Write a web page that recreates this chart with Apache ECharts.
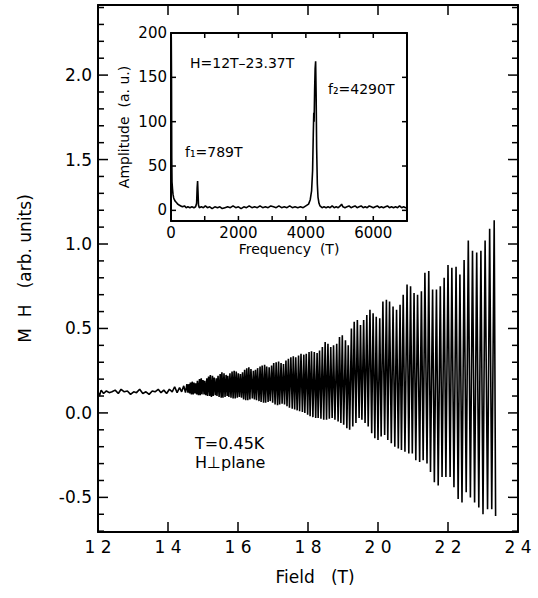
<!DOCTYPE html>
<html>
<head>
<meta charset="utf-8">
<title>M H vs Field</title>
<script src="https://cdn.jsdelivr.net/npm/echarts@6/dist/echarts.min.js"></script>
<style>
  html, body { margin: 0; padding: 0; background: #fff; }
  #chart { width: 538px; height: 598px; }
</style>
</head>
<body>
<div id="chart"></div>
<script>
// main trace, [field (T), M*H (arb. units)], extrema
const lowFieldTrace = [
  [12.00,0.125],[12.04,0.10],[12.09,0.135],[12.16,0.115],[12.24,0.13],[12.32,0.12],[12.40,0.125],
  [12.49,0.135],[12.58,0.115],[12.66,0.14],[12.75,0.125],[12.84,0.13],[12.93,0.11],[13.02,0.125],
  [13.10,0.12],[13.19,0.14],[13.28,0.115],[13.37,0.125],[13.46,0.11],[13.55,0.13],[13.63,0.125],
  [13.72,0.14],[13.80,0.12],[13.88,0.135],[13.96,0.115],[14.04,0.14],[14.12,0.125],[14.19,0.155],
  [14.26,0.12],[14.33,0.15],[14.39,0.125],[14.45,0.16],[14.50,0.12]
];
const midFieldTrace = [
  [14.54,0.17],[14.57,0.12],[14.59,0.17],[14.62,0.115],[14.64,0.18],[14.67,0.11],[14.69,0.185],[14.72,0.11],
  [14.74,0.18],[14.77,0.115],[14.79,0.175],[14.82,0.11],[14.84,0.19],[14.87,0.105],[14.90,0.20],[14.92,0.105],
  [14.95,0.205],[14.97,0.11],[15.00,0.195],[15.03,0.11],[15.05,0.19],[15.08,0.105],[15.11,0.205],[15.13,0.10],
  [15.16,0.215],[15.19,0.10],[15.21,0.225],[15.24,0.095],[15.27,0.22],[15.29,0.10],[15.32,0.21],[15.35,0.105],
  [15.38,0.205],[15.40,0.10],[15.43,0.22],[15.46,0.095],[15.49,0.23],[15.52,0.09],[15.54,0.24],[15.57,0.09],
  [15.60,0.235],[15.63,0.095],[15.66,0.225],[15.69,0.10],[15.71,0.22],[15.74,0.095],[15.77,0.235],[15.80,0.09],
  [15.83,0.245],[15.86,0.085],[15.89,0.25],[15.92,0.085],[15.95,0.245],[15.98,0.09],[16.01,0.235],[16.04,0.095],
  [16.07,0.23],[16.10,0.09],[16.13,0.24],[16.16,0.08],[16.19,0.255],[16.22,0.075],[16.25,0.265],[16.28,0.075],
  [16.31,0.27],[16.34,0.08],[16.37,0.26],[16.41,0.085],[16.44,0.25],[16.47,0.08],[16.50,0.255],[16.53,0.075],
  [16.56,0.265],[16.60,0.07],[16.63,0.275],[16.66,0.065],[16.69,0.28],[16.73,0.06],[16.76,0.285],[16.79,0.06],
  [16.82,0.275],[16.86,0.065],[16.89,0.27],[16.92,0.07],[16.96,0.28],[16.99,0.06],[17.02,0.295],[17.06,0.05],
  [17.09,0.30],[17.13,0.045],[17.16,0.305],[17.19,0.05],[17.23,0.295],[17.26,0.055],[17.30,0.29],[17.33,0.05],
  [17.37,0.31],[17.40,0.04],[17.44,0.32],[17.47,0.03],[17.51,0.33],[17.55,0.025],[17.58,0.335],[17.62,0.02],
  [17.65,0.33],[17.69,0.015],[17.73,0.34],[17.76,0.01],[17.80,0.35],[17.84,0.005],[17.88,0.345],[17.91,0.0],
  [17.95,0.35],[17.99,-0.01],[18.03,0.36],[18.06,-0.02],[18.10,0.365],[18.14,-0.025],[18.18,0.36],[18.22,-0.03]
];
const highFieldTrace = [
  [18.26,0.355],[18.29,-0.03],[18.33,0.37],[18.37,-0.035],[18.41,0.39],[18.45,-0.04],[18.49,0.42],[18.53,-0.04],
  [18.57,0.41],[18.61,-0.035],[18.65,0.39],[18.69,-0.03],[18.73,0.40],[18.77,-0.04],[18.82,0.41],[18.86,-0.05],
  [18.90,0.45],[18.94,-0.06],[18.98,0.46],[19.02,-0.07],[19.07,0.43],[19.11,-0.09],[19.15,0.40],[19.19,-0.10],
  [19.24,0.50],[19.28,-0.08],[19.32,0.54],[19.37,-0.06],[19.41,0.55],[19.46,-0.03],[19.50,0.52],[19.54,-0.04],
  [19.59,0.55],[19.63,-0.06],[19.68,0.58],[19.72,-0.08],[19.77,0.61],[19.82,-0.12],[19.86,0.59],[19.91,-0.15],
  [19.95,0.57],[20.00,-0.16],[20.05,0.56],[20.09,-0.14],[20.14,0.66],[20.19,-0.13],[20.24,0.67],[20.28,-0.16],
  [20.33,0.66],[20.38,-0.18],[20.43,0.63],[20.48,-0.20],[20.53,0.61],[20.58,-0.21],[20.63,0.64],[20.67,-0.22],
  [20.72,0.70],[20.77,-0.23],[20.83,0.76],[20.88,-0.24],[20.93,0.75],[20.98,-0.24],[21.03,0.71],[21.08,-0.28],
  [21.13,0.70],[21.19,-0.29],[21.24,0.72],[21.29,-0.28],[21.34,0.83],[21.40,-0.30],[21.45,0.84],[21.50,-0.35],
  [21.56,0.73],[21.61,-0.41],[21.67,0.73],[21.72,-0.43],[21.78,0.75],[21.83,-0.38],[21.89,0.80],[21.94,-0.38],
  [22.00,0.875],[22.06,-0.38],[22.11,0.86],[22.17,-0.44],[22.23,0.865],[22.29,-0.51],[22.34,0.82],[22.40,-0.53],
  [22.46,0.905],[22.52,-0.47],[22.58,1.02],[22.64,-0.50],[22.70,0.96],[22.76,-0.53],[22.82,0.95],[22.88,-0.56],
  [22.94,0.96],[23.00,-0.60],[23.06,1.02],[23.13,-0.57],[23.19,1.09],[23.25,-0.57],[23.32,1.14],[23.36,-0.61]
];

// inset: FFT spectrum, [frequency (T), amplitude (a.u.)]
const fftLow = [
  [0,198],[8,195],[15,150],[22,60],[30,32],[45,24],[60,18],[80,14],[100,12],[130,10],[160,9],[200,7],
  [240,6],[290,5],[340,4],[400,5],[450,3],[500,4],[560,3],[620,4],[680,3],[730,4],[760,8],[775,25],
  [789,33],[800,22],[815,6],[840,3],[900,4],[960,3],[1020,5],[1080,3],[1150,4],[1220,2],[1300,4],
  [1380,3],[1450,4],[1520,2],[1600,3],[1680,4],[1760,3],[1840,5],[1920,3],[2000,4],[2080,2],[2160,4],
  [2240,3],[2320,5],[2400,3],[2480,4],[2560,3],[2640,5],[2720,3],[2800,4],[2880,3],[2960,5],[3040,4],
  [3120,3],[3200,5],[3280,3],[3360,4],[3440,3],[3520,5],[3600,3],[3680,4],[3760,3],[3840,4],[3920,3]
];
const fftHigh = [
  [4000,5],[4080,7],[4130,12],[4170,22],[4200,45],[4220,85],[4235,110],[4245,100],[4260,135],[4275,160],
  [4290,168],[4305,130],[4320,70],[4340,30],[4360,15],[4390,8],[4420,5],[4480,3],[4540,4],[4600,3],
  [4660,4],[4720,3],[4780,5],[4840,3],[4900,4],[4960,3],[5020,5],[5060,7],[5100,4],[5160,3],[5220,4],
  [5280,5],[5340,3],[5400,4],[5460,5],[5520,3],[5580,4],[5640,5],[5700,3],[5760,4],[5820,3],[5880,5],
  [5940,4],[6000,3],[6060,4],[6120,5],[6180,3],[6240,4],[6300,3],[6360,4],[6420,5],[6480,3],[6540,4],
  [6600,3],[6660,4],[6720,3],[6780,5],[6840,3],[6900,4],[6960,3],[7000,3]
];

// ticks
const xMainTicks = [12, 14, 16, 18, 20, 22, 24];
const yMajorTicks = [-0.5, 0, 0.5, 1.0, 1.5, 2.0];
const yMinorTicks = [-0.7, -0.6, -0.4, -0.3, -0.2, -0.1, 0.1, 0.2, 0.3, 0.4, 0.6, 0.7, 0.8, 0.9,
  1.1, 1.2, 1.3, 1.4, 1.6, 1.7, 1.8, 1.9, 2.1, 2.2, 2.3, 2.4];
const xInsetTicks = [0, 1000, 2000, 3000, 4000, 5000, 6000, 7000];
const yInsetTicks = [0, 50, 100, 150, 200];

const X_MAIN = [12, 24], Y_MAIN = [-0.705, 2.415];
const X_INSET = [0, 7000], Y_INSET = [-12, 200];

const FONT = '"DejaVu Sans", sans-serif';
const ink = '#000';

const frameLine = () => ({ show: true, onZero: false, lineStyle: { color: ink, width: 2 } });
const txt = (size) => ({ fontSize: size, fontFamily: FONT, color: ink });
const tickStroke = { stroke: ink, lineWidth: 1.5 };

// axisTick would not show up here, so inward ticks are drawn from the axis scales
function xTickSeries(xi, yi, yRange, values, len) {
  return {
    type: 'custom', xAxisIndex: xi, yAxisIndex: yi, clip: false, silent: true, z: 5,
    data: values.map((v) => [v, yRange[0]]),
    renderItem: (params, api) => {
      const b = api.coord([api.value(0), yRange[0]]);
      const t = api.coord([api.value(0), yRange[1]]);
      return { type: 'group', children: [
        { type: 'line', shape: { x1: b[0], y1: b[1], x2: b[0], y2: b[1] - len }, style: tickStroke },
        { type: 'line', shape: { x1: t[0], y1: t[1], x2: t[0], y2: t[1] + len }, style: tickStroke }
      ] };
    }
  };
}
function yTickSeries(xi, yi, xRange, values, len) {
  return {
    type: 'custom', xAxisIndex: xi, yAxisIndex: yi, clip: false, silent: true, z: 5,
    data: values.map((v) => [xRange[0], v]),
    renderItem: (params, api) => {
      const l = api.coord([xRange[0], api.value(1)]);
      const r = api.coord([xRange[1], api.value(1)]);
      return { type: 'group', children: [
        { type: 'line', shape: { x1: l[0], y1: l[1], x2: l[0] + len, y2: l[1] }, style: tickStroke },
        { type: 'line', shape: { x1: r[0], y1: r[1], x2: r[0] - len, y2: r[1] }, style: tickStroke }
      ] };
    }
  };
}

const chart = echarts.init(document.getElementById('chart'), null, { renderer: 'svg' });

chart.setOption({
  animation: false,
  backgroundColor: '#fff',
  grid: [
    { left: 98, top: 5, width: 420, height: 527 },
    { left: 171, top: 33, width: 236, height: 188 }
  ],
  xAxis: [
    {
      gridIndex: 0, type: 'value', position: 'bottom', min: X_MAIN[0], max: X_MAIN[1], interval: 2,
      axisLine: frameLine(), axisTick: { show: false },
      axisLabel: Object.assign(txt(17), { margin: 6, formatter: (v) => String(v).split('').join(' ') }),
      splitLine: { show: false },
      name: 'Field   (T)', nameLocation: 'middle', nameGap: 36,
      nameTextStyle: Object.assign(txt(17), { padding: [0, 0, 0, 14] })
    },
    {
      gridIndex: 0, type: 'value', position: 'top', min: X_MAIN[0], max: X_MAIN[1], interval: 2,
      axisLine: frameLine(), axisTick: { show: false }, axisLabel: { show: false }, splitLine: { show: false }
    },
    {
      gridIndex: 1, type: 'value', position: 'bottom', min: X_INSET[0], max: X_INSET[1], interval: 1000,
      axisLine: frameLine(), axisTick: { show: false },
      axisLabel: Object.assign(txt(15), { margin: 4, formatter: (v) => (v % 2000 === 0 ? String(v) : '') }),
      splitLine: { show: false },
      name: 'Frequency  (T)', nameLocation: 'middle', nameGap: 21,
      nameTextStyle: txt(14)
    },
    {
      gridIndex: 1, type: 'value', position: 'top', min: X_INSET[0], max: X_INSET[1], interval: 1000,
      axisLine: frameLine(), axisTick: { show: false }, axisLabel: { show: false }, splitLine: { show: false }
    }
  ],
  yAxis: [
    {
      gridIndex: 0, type: 'value', position: 'left', min: Y_MAIN[0], max: Y_MAIN[1],
      axisLine: frameLine(), axisTick: { show: false },
      axisLabel: Object.assign(txt(17), { margin: 6, customValues: yMajorTicks, formatter: (v) => v.toFixed(1) }),
      splitLine: { show: false },
      name: 'M  H   (arb. units)', nameLocation: 'middle', nameGap: 65,
      nameTextStyle: txt(17)
    },
    {
      gridIndex: 0, type: 'value', position: 'right', min: Y_MAIN[0], max: Y_MAIN[1],
      axisLine: frameLine(), axisTick: { show: false }, axisLabel: { show: false }, splitLine: { show: false }
    },
    {
      gridIndex: 1, type: 'value', position: 'left', min: Y_INSET[0], max: Y_INSET[1],
      axisLine: frameLine(), axisTick: { show: false },
      axisLabel: Object.assign(txt(15), { margin: 4, customValues: yInsetTicks }),
      splitLine: { show: false },
      name: 'Amplitude  (a. u.)', nameLocation: 'middle', nameGap: 40,
      nameTextStyle: txt(14)
    },
    {
      gridIndex: 1, type: 'value', position: 'right', min: Y_INSET[0], max: Y_INSET[1],
      axisLine: frameLine(), axisTick: { show: false }, axisLabel: { show: false }, splitLine: { show: false }
    }
  ],
  series: [
    {
      type: 'line', xAxisIndex: 0, yAxisIndex: 0,
      data: lowFieldTrace.concat(midFieldTrace, highFieldTrace),
      showSymbol: false, symbol: 'none',
      lineStyle: { color: ink, width: 1.6 }
    },
    {
      type: 'line', xAxisIndex: 2, yAxisIndex: 2,
      data: fftLow.concat(fftHigh),
      showSymbol: false, symbol: 'none',
      lineStyle: { color: ink, width: 1.6 }
    },
    xTickSeries(0, 0, Y_MAIN, xMainTicks, 10),
    yTickSeries(0, 0, X_MAIN, yMajorTicks, 10),
    yTickSeries(0, 0, X_MAIN, yMinorTicks, 6),
    xTickSeries(2, 2, Y_INSET, xInsetTicks, 5),
    yTickSeries(2, 2, X_INSET, yInsetTicks, 5)
  ],
  graphic: [
    { type: 'text', x: 190, y: 63, style: { text: 'H=12T\u201323.37T', font: '14px ' + FONT, fill: ink, verticalAlign: 'middle' } },
    { type: 'text', x: 328, y: 89, style: { text: 'f\u2082=4290T', font: '14px ' + FONT, fill: ink, verticalAlign: 'middle' } },
    { type: 'text', x: 185, y: 152, style: { text: 'f\u2081=789T', font: '14px ' + FONT, fill: ink, verticalAlign: 'middle' } },
    { type: 'text', x: 195, y: 443, style: { text: 'T=0.45K', font: '16px ' + FONT, fill: ink, verticalAlign: 'middle' } },
    { type: 'text', x: 195, y: 462, style: { text: 'H\u22A5plane', font: '16px ' + FONT, fill: ink, verticalAlign: 'middle' } }
  ]
});
</script>
</body>
</html>
